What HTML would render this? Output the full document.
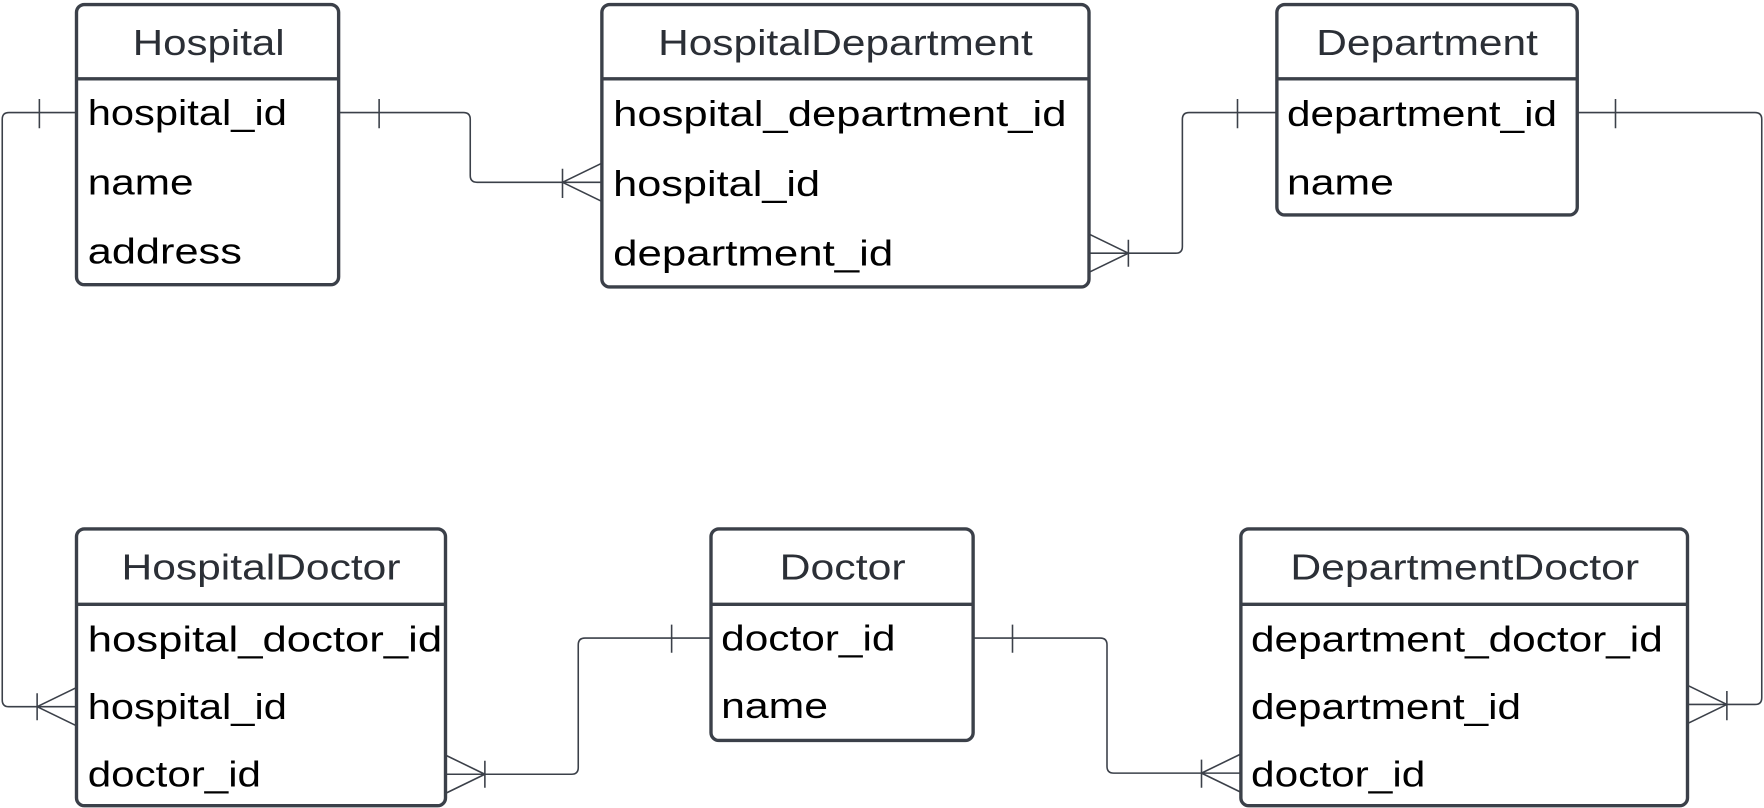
<!DOCTYPE html>
<html><head><meta charset="utf-8"><style>
html,body{margin:0;padding:0;background:#fff;}
svg{display:block}
text{font-family:"Liberation Sans",sans-serif;font-size:32px;}
.t{fill:#2b2f36}
.f{fill:#000}
.b{fill:#fff;stroke:#3b4049;stroke-width:3}
.l{stroke:#3b4049;stroke-width:3}
.c{fill:none;stroke:#3b4049;stroke-width:1.4}
</style></head><body>
<svg width="1764" height="808" viewBox="0 0 1568 718" preserveAspectRatio="none" xmlns="http://www.w3.org/2000/svg">
<g class="c">
<path d="M301 100 H412 Q418 100 418 106 V156 Q418 162 424 162 H535"/>
<path d="M337 88 V114 M500 150 V176 M500 162 L535 145 M500 162 L535 179"/>
<path d="M68 100 H8 Q2 100 2 106 V622 Q2 628 8 628 H68"/>
<path d="M35 88 V114 M33 616 V640 M33 628 L68 611 M33 628 L68 645"/>
<path d="M1135 100 H1057 Q1051 100 1051 106 V219 Q1051 225 1045 225 H968"/>
<path d="M1100 88 V114 M1003 213 V237 M1003 225 L968 208 M1003 225 L968 242"/>
<path d="M1402 100 H1560 Q1566 100 1566 106 V620 Q1566 626 1560 626 H1500"/>
<path d="M1436 88 V114 M1535 614 V640 M1535 626 L1500 609 M1535 626 L1500 643"/>
<path d="M632 567 H520 Q514 567 514 573 V682 Q514 688 508 688 H396"/>
<path d="M597 555 V580 M431 676 V700 M431 688 L396 671 M431 688 L396 705"/>
<path d="M865 567 H978 Q984 567 984 573 V681 Q984 687 990 687 H1103"/>
<path d="M900 555 V580 M1068 675 V700 M1068 687 L1103 670 M1068 687 L1103 704"/>
</g>
<rect class="b" x="68" y="4" width="233" height="249" rx="7"/>
<line class="l" x1="68" y1="70" x2="301" y2="70"/>
<text class="t" x="118" y="49" textLength="135" lengthAdjust="spacingAndGlyphs">Hospital</text>
<text class="f" x="78" y="111" textLength="177" lengthAdjust="spacingAndGlyphs">hospital_id</text>
<text class="f" x="78" y="173" textLength="94" lengthAdjust="spacingAndGlyphs">name</text>
<text class="f" x="78" y="234" textLength="137" lengthAdjust="spacingAndGlyphs">address</text>
<rect class="b" x="535" y="4" width="433" height="251" rx="7"/>
<line class="l" x1="535" y1="70" x2="968" y2="70"/>
<text class="t" x="585" y="49" textLength="333" lengthAdjust="spacingAndGlyphs">HospitalDepartment</text>
<text class="f" x="545" y="112" textLength="403" lengthAdjust="spacingAndGlyphs">hospital_department_id</text>
<text class="f" x="545" y="174" textLength="184" lengthAdjust="spacingAndGlyphs">hospital_id</text>
<text class="f" x="545" y="236" textLength="249" lengthAdjust="spacingAndGlyphs">department_id</text>
<rect class="b" x="1135" y="4" width="267" height="187" rx="7"/>
<line class="l" x1="1135" y1="70" x2="1402" y2="70"/>
<text class="t" x="1170" y="49" textLength="197" lengthAdjust="spacingAndGlyphs">Department</text>
<text class="f" x="1144" y="112" textLength="240" lengthAdjust="spacingAndGlyphs">department_id</text>
<text class="f" x="1144" y="173" textLength="95" lengthAdjust="spacingAndGlyphs">name</text>
<rect class="b" x="68" y="470" width="328" height="246" rx="7"/>
<line class="l" x1="68" y1="537" x2="396" y2="537"/>
<text class="t" x="108" y="515" textLength="248" lengthAdjust="spacingAndGlyphs">HospitalDoctor</text>
<text class="f" x="78" y="579" textLength="315" lengthAdjust="spacingAndGlyphs">hospital_doctor_id</text>
<text class="f" x="78" y="639" textLength="177" lengthAdjust="spacingAndGlyphs">hospital_id</text>
<text class="f" x="78" y="699" textLength="154" lengthAdjust="spacingAndGlyphs">doctor_id</text>
<rect class="b" x="632" y="470" width="233" height="188" rx="7"/>
<line class="l" x1="632" y1="537" x2="865" y2="537"/>
<text class="t" x="693" y="515" textLength="112" lengthAdjust="spacingAndGlyphs">Doctor</text>
<text class="f" x="641" y="578" textLength="155" lengthAdjust="spacingAndGlyphs">doctor_id</text>
<text class="f" x="641" y="638" textLength="95" lengthAdjust="spacingAndGlyphs">name</text>
<rect class="b" x="1103" y="470" width="397" height="246" rx="7"/>
<line class="l" x1="1103" y1="537" x2="1500" y2="537"/>
<text class="t" x="1147" y="515" textLength="310" lengthAdjust="spacingAndGlyphs">DepartmentDoctor</text>
<text class="f" x="1112" y="579" textLength="366" lengthAdjust="spacingAndGlyphs">department_doctor_id</text>
<text class="f" x="1112" y="639" textLength="240" lengthAdjust="spacingAndGlyphs">department_id</text>
<text class="f" x="1112" y="699" textLength="155" lengthAdjust="spacingAndGlyphs">doctor_id</text>
</svg>
</body></html>
